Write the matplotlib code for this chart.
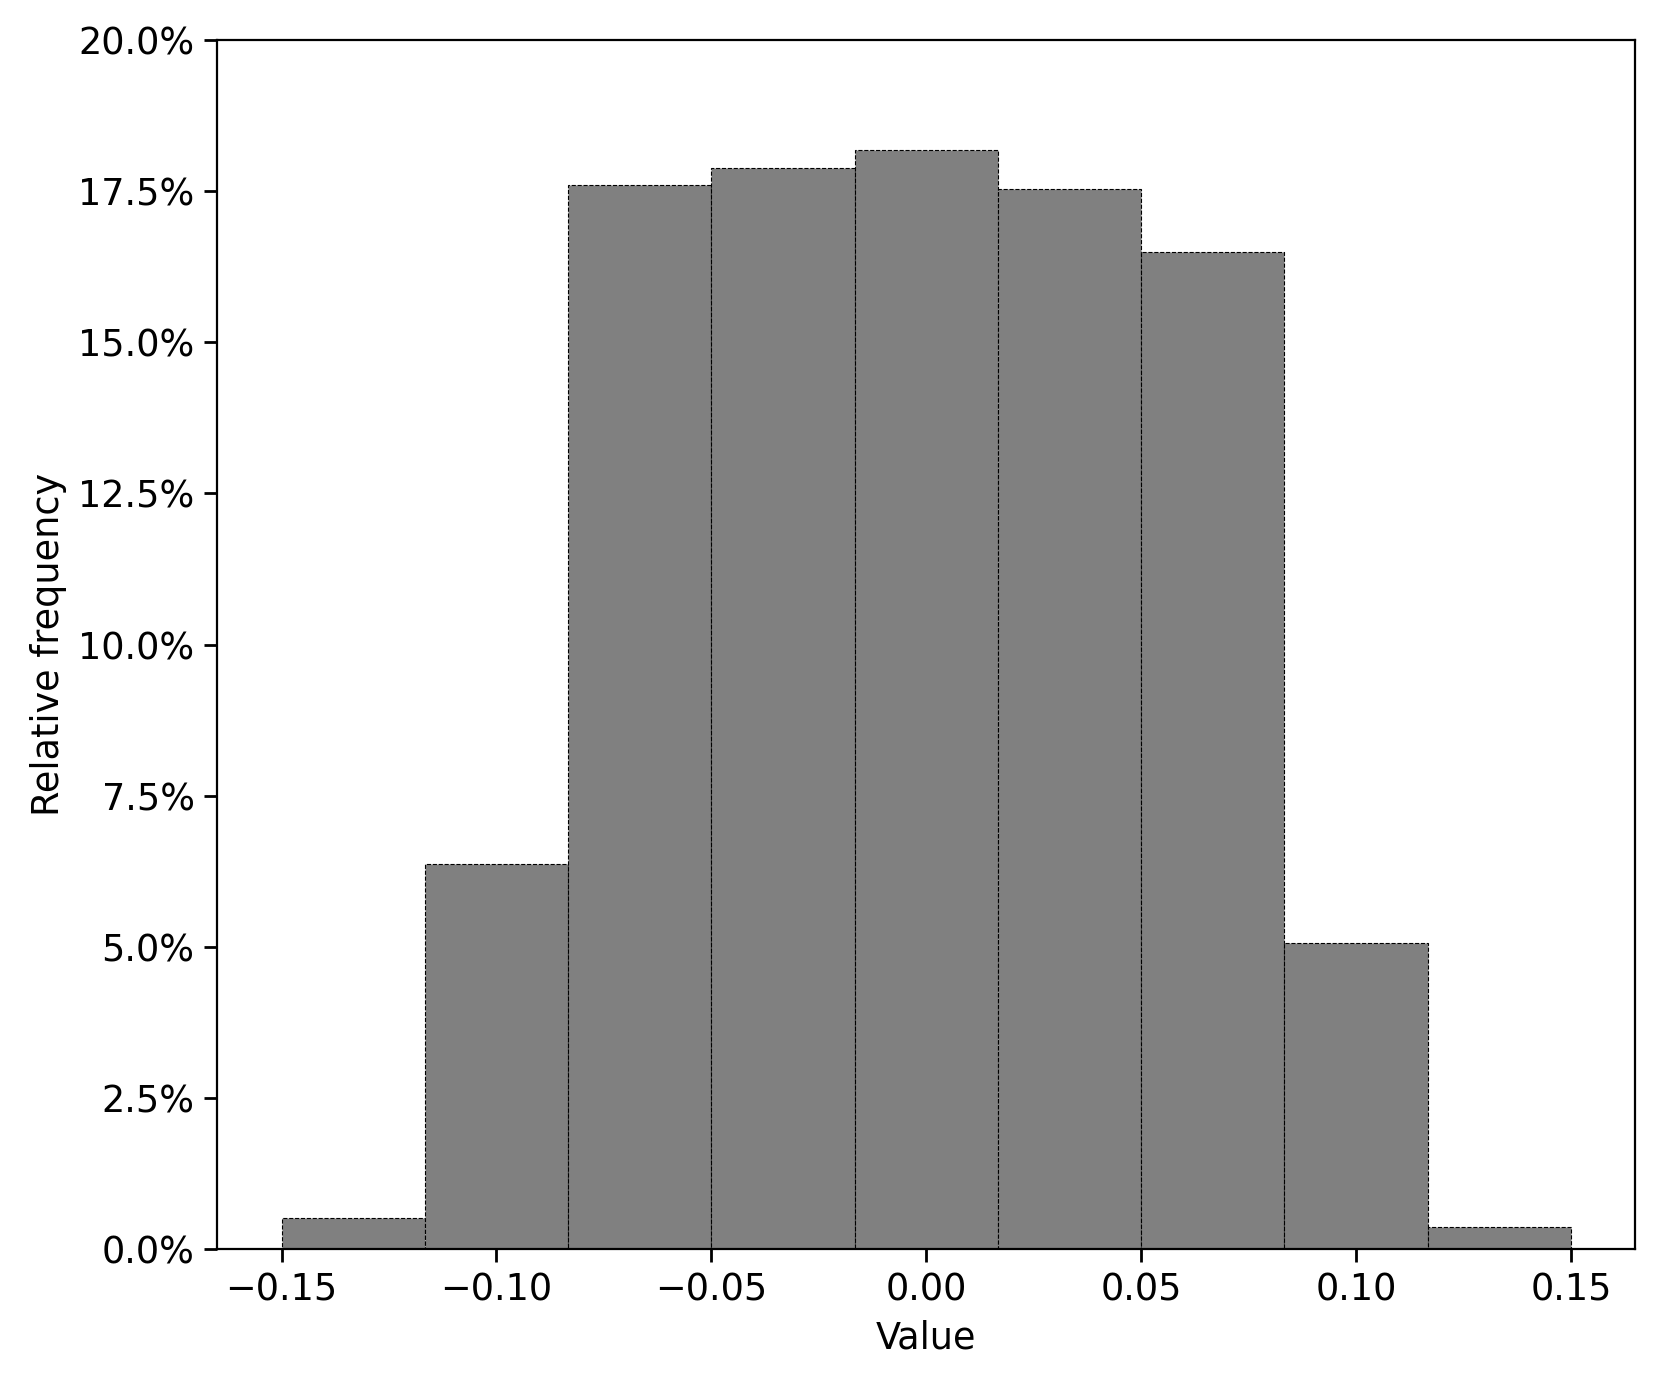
import matplotlib.pyplot as plt
from matplotlib.ticker import PercentFormatter

# histogram bin edges and relative frequencies (percent)
binEdges = [-0.15, -0.11667, -0.08333, -0.05, -0.01667, 0.01667, 0.05, 0.08333, 0.11667, 0.15]
relFreq = [0.51, 6.37, 17.6, 17.89, 18.18, 17.54, 16.49, 5.07, 0.37]

lefts = binEdges[:-1]
widths = [binEdges[i + 1] - binEdges[i] for i in range(len(relFreq))]

plt.rcParams['font.size'] = 13.2

fig = plt.figure(figsize=(8.31, 6.925), dpi=200)
ax = fig.add_axes([0.1306, 0.0982, 0.8534, 0.8729])
ax.bar(lefts, relFreq, width=widths, align='edge', color='gray',
       edgecolor='black', linestyle='--', linewidth=0.4)
ax.set_xlim(-0.165, 0.165)
ax.set_ylim(0, 20)
ax.yaxis.set_major_formatter(PercentFormatter(100, decimals=1))
ax.tick_params(length=4.6, width=1)
ax.set_xlabel('Value')
ax.set_ylabel('Relative frequency')
fig.savefig('out.png', dpi=200)
